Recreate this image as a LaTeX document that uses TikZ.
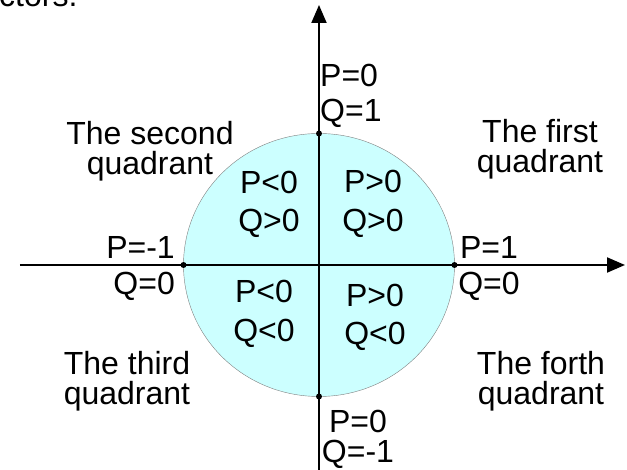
\documentclass[tikz,border=0pt]{standalone}
\usepackage{fontspec}
\setmainfont{Liberation Sans}
\usepackage{xcolor}
\usepackage{tikz}
\usetikzlibrary{arrows.meta,positioning}

\definecolor{discfill}{RGB}{204,255,255}

\begin{document}
\begin{tikzpicture}[
  x=1pt,y=1pt,
  lbl/.style={inner sep=0pt,align=center,font=\fontsize{32}{#1}\selectfont},
  lbl/.default=30,
  axis/.style={-{Triangle[length=18pt,width=15pt]},line width=2pt},
  dot/.style={circle,fill=black,inner sep=0pt,minimum size=6pt}
]
\useasboundingbox (-319,-205) rectangle (308,265);
% disc
\draw[gray,fill=discfill] (0,0) ellipse [x radius=135.5,y radius=131.5];
% axes
\coordinate (o) at (0,0);
\coordinate (xl) at (-299,0); \coordinate (xr) at (306,0);
\coordinate (yb) at (0,-206); \coordinate (yt) at (0,260);
\draw[axis] (xl)--(xr);
\draw[axis] (yb)--(yt);
\node[dot] (pw) at (-135.5,0) {}; \node[dot] (pe) at (135.5,0) {};
\node[dot] (pn) at (0,131.5) {}; \node[dot] (ps) at (0,-131.5) {};
% quadrant names (base = last line)
\node[lbl,anchor=base] (q2) at (-169,90) {The second\\quadrant};
\node[lbl,anchor=base] (q1) at (221,92) {The first\\quadrant};
\node[lbl,anchor=base] (q3) at (-192,-140) {The third\\quadrant};
\node[lbl,anchor=base] (q4) at (222,-140) {The forth\\quadrant};
% signs
\node[lbl=38,anchor=base] (s2) at (-50,33) {P<0\\Q>0};
\node[lbl=39,anchor=base] (s1) at (54,33) {P>0\\Q>0};
\node[lbl=39,anchor=base] (s3) at (-55,-77) {P<0\\Q<0};
\node[lbl=38,anchor=base] (s4) at (56,-80) {P>0\\Q<0};
% axis points
\node[lbl=35,anchor=base west,align=left] (ln) at (1,143) {P=0\\Q=1};
\node[lbl=36,anchor=base east,align=right] (lw) at (-144,-30) {P=-1\\Q=0};
\node[lbl=36,anchor=base] (le) at (170,-30) {P=1\\Q=0};
\node[lbl,anchor=base] (ls) at (39,-198) {P=0\\Q=-1};
% cut-off text above
\node[lbl,anchor=base west] (cut) at (-320,258) {ctors.};
\end{tikzpicture}
\end{document}
